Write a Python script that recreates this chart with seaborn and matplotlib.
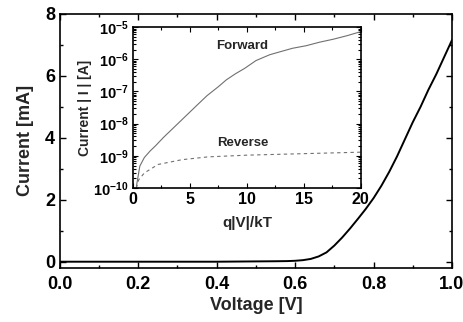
import matplotlib
matplotlib.use("Agg")
import matplotlib.pyplot as plt
from matplotlib.ticker import MultipleLocator, LogLocator, NullFormatter
import seaborn as sns

# main I-V curve (linear)
voltage = [0.0, 0.1, 0.2, 0.3, 0.4, 0.5, 0.55, 0.58, 0.6, 0.62, 0.64, 0.66, 0.68,
           0.7, 0.72, 0.74, 0.76, 0.78, 0.8, 0.82, 0.84, 0.86, 0.88, 0.9, 0.92,
           0.94, 0.96, 0.98, 1.0]
current_ma = [0.0, 0.0, 0.0, 0.0, 0.0, 0.01, 0.015, 0.02, 0.03, 0.05, 0.09, 0.17, 0.3,
              0.52, 0.78, 1.07, 1.38, 1.7, 2.05, 2.45, 2.9, 3.4, 3.95, 4.5, 5.0,
              5.55, 6.05, 6.6, 7.15]

# inset: |I| vs q|V|/kT (log)
qv_fwd = [0.3, 0.6, 1.0, 1.5, 2.0, 2.7, 3.7, 4.7, 5.7, 6.5, 7.5, 8.2, 9.0, 9.8,
          10.8, 12.0, 13.0, 14.0, 15.2, 16.4, 17.6, 18.8, 20.0]
i_fwd = [1.12e-10, 4.8e-10, 8.9e-10, 1.41e-9, 2.09e-9, 3.8e-9, 8.3e-9, 1.82e-8,
         3.98e-8, 7.4e-8, 1.41e-7, 2.3e-7, 3.55e-7, 5.2e-7, 9.1e-7, 1.38e-6,
         1.74e-6, 2.19e-6, 2.63e-6, 3.4e-6, 4.2e-6, 5.4e-6, 7.2e-6]
qv_rev = [0.3, 0.5, 1.0, 2.2, 4.3, 6.6, 10.0, 15.0, 20.0]
i_rev = [1.0e-10, 1.8e-10, 2.95e-10, 5.4e-10, 7.6e-10, 9.3e-10, 1.05e-9, 1.17e-9, 1.3e-9]

sns.set_style("ticks")
plt.rcParams["font.family"] = ["Liberation Sans", "DejaVu Sans"]
plt.rcParams["font.weight"] = "bold"
plt.rcParams["mathtext.fontset"] = "custom"
plt.rcParams["mathtext.rm"] = "Liberation Sans:bold"
plt.rcParams["mathtext.it"] = "Liberation Sans:bold"
plt.rcParams["mathtext.bf"] = "Liberation Sans:bold"

fig = plt.figure(figsize=(4.64, 3.22), dpi=100)
ax = fig.add_axes([0.129, 0.168, 0.845, 0.789])

sns.lineplot(x=voltage, y=current_ma, ax=ax, color="black", linewidth=1.4)
ax.set_xlim(0, 1.0)
ax.set_ylim(-0.2, 8)
ax.xaxis.set_major_locator(MultipleLocator(0.2))
ax.xaxis.set_minor_locator(MultipleLocator(0.1))
ax.yaxis.set_major_locator(MultipleLocator(2))
ax.yaxis.set_minor_locator(MultipleLocator(1))
ax.tick_params(which="both", direction="in", top=True, right=True, width=1.0,
               color="black", labelcolor="black")
ax.tick_params(which="major", length=4, labelsize=13)
ax.tick_params(axis="x", which="major", pad=6)
ax.tick_params(which="minor", length=2.5)
ax.set_xlabel("Voltage [V]", fontsize=13, fontweight="bold", labelpad=3)
ax.set_ylabel("Current [mA]", fontsize=13, fontweight="bold", labelpad=8)
for s in ax.spines.values():
    s.set_linewidth(1.2)
    s.set_color("black")

# inset
axi = fig.add_axes([0.2866, 0.416, 0.491, 0.5])
sns.lineplot(x=qv_fwd, y=i_fwd, ax=axi, color="#707070", linewidth=0.8)
sns.lineplot(x=qv_rev, y=i_rev, ax=axi, color="#707070", linewidth=0.8,
             linestyle=(0, (3, 3)))
axi.set_yscale("log")
axi.set_xlim(0, 20)
axi.set_ylim(1e-10, 1e-5)
axi.xaxis.set_major_locator(MultipleLocator(5))
axi.xaxis.set_minor_locator(MultipleLocator(2.5))
axi.yaxis.set_major_locator(LogLocator(base=10, numticks=10))
axi.yaxis.set_minor_locator(LogLocator(base=10, subs=range(2, 10), numticks=10))
axi.yaxis.set_minor_formatter(NullFormatter())
axi.tick_params(which="both", direction="in", top=True, right=True, width=0.8,
                color="black", labelcolor="black")
axi.tick_params(which="major", length=3.5)
axi.tick_params(axis="x", which="major", labelsize=11.5, pad=3)
axi.tick_params(axis="y", which="major", labelsize=10.5, pad=3)
axi.tick_params(which="minor", length=2)
axi.set_xlabel("q|V|/kT", fontsize=11, fontweight="bold", labelpad=6)
axi.set_ylabel("Current | I | [A]", fontsize=10, fontweight="bold", labelpad=1)
for s in axi.spines.values():
    s.set_linewidth(1.2)
    s.set_color("black")

axi.text(9.6, 2.6e-6, "Forward", fontsize=9.5, fontweight="bold", ha="center", va="center")
axi.text(9.6, 2.5e-9, "Reverse", fontsize=9.5, fontweight="bold", ha="center", va="center")

fig.savefig("out.png", dpi=100)
